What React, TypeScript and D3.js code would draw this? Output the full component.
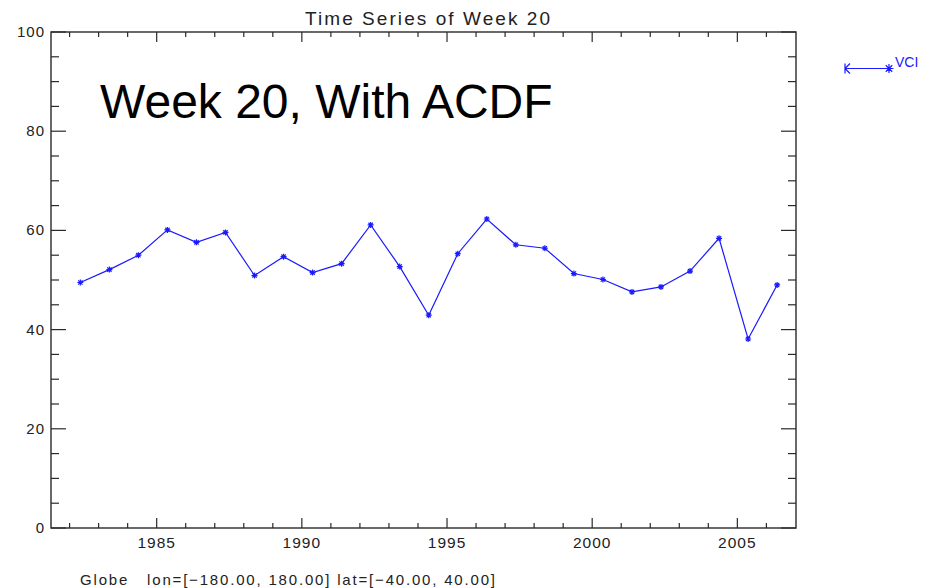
import { useRef, useEffect } from 'react';
import * as d3 from 'd3';

// VCI, week 20 of each year
const years = [
  1982, 1983, 1984, 1985, 1986, 1987, 1988, 1989, 1990, 1991, 1992, 1993, 1994,
  1995, 1996, 1997, 1998, 1999, 2000, 2001, 2002, 2003, 2004, 2005, 2006,
];
const vci = [
  49.5, 52.1, 55.0, 60.1, 57.6, 59.6, 50.9, 54.7, 51.5, 53.3, 61.1, 52.7, 42.9,
  55.3, 62.3, 57.1, 56.4, 51.3, 50.1, 47.6, 48.6, 51.8, 58.4, 38.1, 49.0,
];
const xMajorTicks = [1985, 1990, 1995, 2000, 2005];
const xMinorTicks = d3.range(1982, 2007);
const yMajorTicks = [0, 20, 40, 60, 80, 100];
const yMinorTicks = d3.range(0, 101, 5);

const WEEK_FRAC = 0.37; // week 20 sits ~0.37 into the year
const FONT = '"Liberation Sans", Arial, sans-serif';

export default function App() {
  const svgRef = useRef<SVGSVGElement>(null);

  useEffect(() => {
    if (!svgRef.current) return;
    const svg = d3.select(svgRef.current);
    svg.selectAll('*').remove();

    const width = 933;
    const height = 588;
    const margin = { top: 32, right: 137, bottom: 60, left: 51 };
    const x0 = margin.left;
    const x1 = width - margin.right;
    const y0 = margin.top;
    const y1 = height - margin.bottom;

    const x = d3.scaleLinear().domain([1981.36, 2007.02]).range([x0, x1]);
    const y = d3.scaleLinear().domain([0, 100]).range([y1, y0]);
    const axisColor = '#2a2a2a';

    svg.append('rect').attr('width', width).attr('height', height).attr('fill', '#fff');

    // frame
    svg.append('rect')
      .attr('x', x0).attr('y', y0)
      .attr('width', x1 - x0).attr('height', y1 - y0)
      .attr('fill', 'none')
      .attr('stroke', axisColor)
      .attr('stroke-width', 1.4);

    const ticks = svg.append('g').attr('stroke', axisColor).attr('stroke-width', 1.2);

    // x ticks, bottom & top, pointing inward
    xMinorTicks.forEach((t) => {
      const len = xMajorTicks.includes(t) ? 10 : 5;
      ticks.append('line').attr('x1', x(t)).attr('x2', x(t)).attr('y1', y1).attr('y2', y1 - len);
      ticks.append('line').attr('x1', x(t)).attr('x2', x(t)).attr('y1', y0).attr('y2', y0 + len);
    });
    // y ticks, left & right
    yMinorTicks.forEach((t) => {
      const len = yMajorTicks.includes(t) ? 15 : 8;
      ticks.append('line').attr('y1', y(t)).attr('y2', y(t)).attr('x1', x0).attr('x2', x0 + len);
      ticks.append('line').attr('y1', y(t)).attr('y2', y(t)).attr('x1', x1).attr('x2', x1 - len);
    });

    svg.append('g')
      .selectAll('text')
      .data(xMajorTicks)
      .join('text')
      .attr('x', (d) => x(d))
      .attr('y', y1 + 20)
      .attr('text-anchor', 'middle')
      .attr('font-family', FONT)
      .attr('font-size', 15.5)
      .attr('letter-spacing', 1)
      .attr('fill', '#222')
      .text((d) => String(d));

    svg.append('g')
      .selectAll('text')
      .data(yMajorTicks)
      .join('text')
      .attr('x', x0 - 6)
      .attr('y', (d) => y(d) + 5)
      .attr('text-anchor', 'end')
      .attr('font-family', FONT)
      .attr('font-size', 15)
      .attr('letter-spacing', 1)
      .attr('fill', '#222')
      .text((d) => String(d));

    // title
    svg.append('text')
      .attr('x', 305).attr('y', 25)
      .attr('font-family', FONT)
      .attr('font-size', 19)
      .attr('textLength', 245)
      .attr('lengthAdjust', 'spacing')
      .attr('fill', '#222')
      .text('Time Series of Week 20');

    svg.append('text')
      .attr('x', 100).attr('y', 118)
      .attr('font-family', FONT)
      .attr('font-size', 48)
      .attr('fill', '#000')
      .text('Week 20, With ACDF');

    svg.append('text')
      .attr('x', 80).attr('y', 585)
      .attr('font-family', FONT)
      .attr('font-size', 15)
      .attr('textLength', 415)
      .attr('lengthAdjust', 'spacing')
      .attr('fill', '#222')
      .style('white-space', 'pre')
      .text('Globe   lon=[\u2212180.00, 180.00] lat=[\u221240.00, 40.00]');

    // series
    const pts = years.map((yr, i) => [x(yr + WEEK_FRAC), y(vci[i])] as [number, number]);
    const blue = '#1a1aff';
    svg.append('path')
      .datum(pts)
      .attr('d', d3.line())
      .attr('fill', 'none')
      .attr('stroke', blue)
      .attr('stroke-width', 1.2);

    const star = (g: d3.Selection<SVGGElement, unknown, null, undefined>, cx: number, cy: number, r: number) => {
      const s = r * 0.72;
      g.append('path')
        .attr('d', `M${cx - r},${cy}H${cx + r}M${cx},${cy - r}V${cy + r}M${cx - s},${cy - s}L${cx + s},${cy + s}M${cx - s},${cy + s}L${cx + s},${cy - s}`)
        .attr('stroke', blue)
        .attr('stroke-width', 1.2)
        .attr('fill', 'none');
    };
    const markers = svg.append('g');
    pts.forEach(([px, py]) => star(markers, px, py, 3));

    // legend
    const lg = svg.append('g');
    const ly = 68.5;
    lg.append('line').attr('x1', 845).attr('x2', 889).attr('y1', ly).attr('y2', ly)
      .attr('stroke', blue).attr('stroke-width', 1.2);
    lg.append('path')
      .attr('d', `M845,${ly - 5}V${ly + 5}M845,${ly}L850,${ly - 5}M845,${ly}L850,${ly + 5}`)
      .attr('stroke', blue).attr('stroke-width', 1.2).attr('fill', 'none');
    star(lg, 889, ly, 4.5);
    lg.append('text')
      .attr('x', 895).attr('y', 67)
      .attr('font-family', FONT)
      .attr('font-size', 14)
      .attr('fill', blue)
      .text('VCI');
  }, []);

  return (
    <svg
      ref={svgRef}
      width={933}
      height={588}
      viewBox="0 0 933 588"
      style={{ position: 'absolute', left: 0, top: 0 }}
    />
  );
}
